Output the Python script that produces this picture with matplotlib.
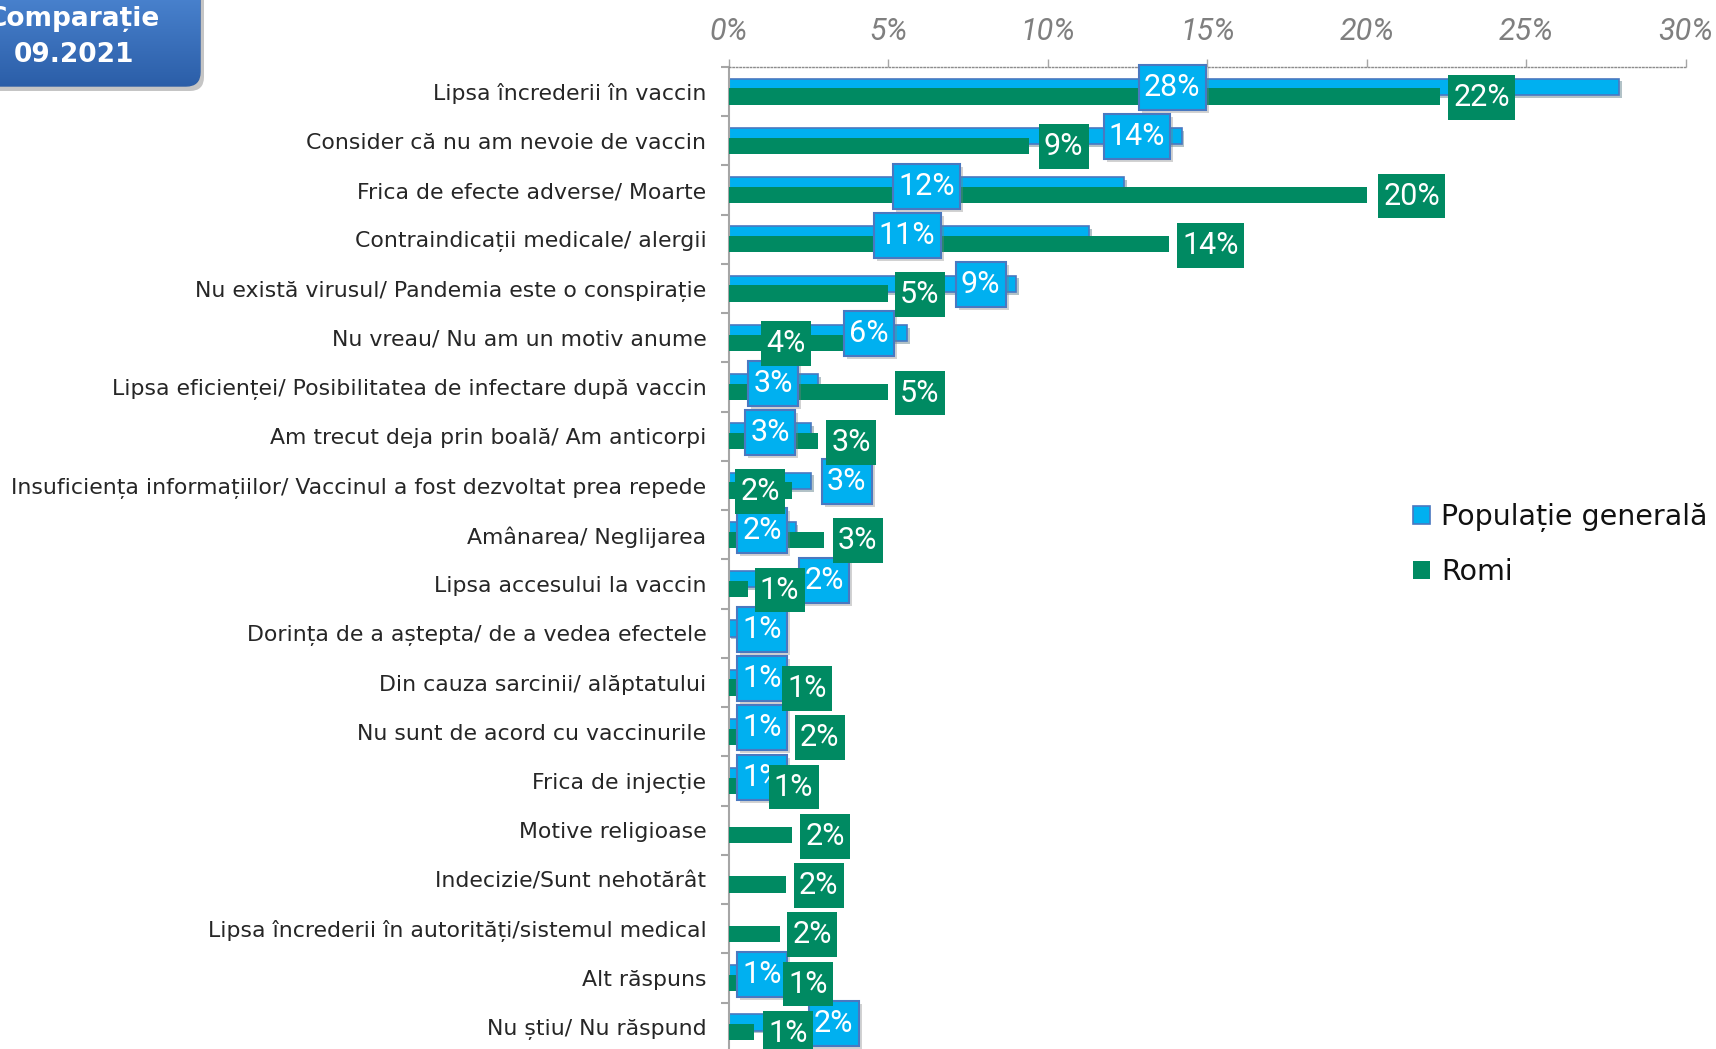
import numpy as np
import matplotlib
matplotlib.use("Agg")
import matplotlib.pyplot as plt
from matplotlib.patches import FancyBboxPatch, Patch
from matplotlib.path import Path
from matplotlib import patheffects as pe
from matplotlib.transforms import offset_copy

# ---------------- data ----------------
categories = [
    "Lipsa încrederii în vaccin",
    "Consider că nu am nevoie de vaccin",
    "Frica de efecte adverse/ Moarte",
    "Contraindicații medicale/ alergii",
    "Nu există virusul/ Pandemia este o conspirație",
    "Nu vreau/ Nu am un motiv anume",
    "Lipsa eficienței/ Posibilitatea de infectare după vaccin",
    "Am trecut deja prin boală/ Am anticorpi",
    "Insuficiența informațiilor/ Vaccinul a fost dezvoltat prea repede",
    "Amânarea/ Neglijarea",
    "Lipsa accesului la vaccin",
    "Dorința de a aștepta/ de a vedea efectele",
    "Din cauza sarcinii/ alăptatului",
    "Nu sunt de acord cu vaccinurile",
    "Frica de injecție",
    "Motive religioase",
    "Indecizie/Sunt nehotărât",
    "Lipsa încrederii în autorități/sistemul medical",
    "Alt răspuns",
    "Nu știu/ Nu răspund",
]
nan = np.nan
pop_values = [27.9, 14.2, 12.4, 11.3, 9.0, 5.6, 2.8, 2.6, 2.6, 2.1, 1.8, 0.8,
              0.8, 0.8, 0.8, nan, nan, nan, 0.8, 2.0]
romi_values = [22.3, 9.4, 20.0, 13.8, 5.0, 3.7, 5.0, 2.8, 2.0, 3.0, 0.6, nan,
               0.8, 1.6, 0.6, 2.0, 1.8, 1.6, 0.6, 0.8]
# label anchor (centre of the value box, in % units) as placed in the original
pop_label_x = [13.9, 12.8, 6.2, 5.6, 7.9, 4.4, 1.4, 1.3, 3.7, 1.05, 3.0, 1.05,
               1.05, 1.05, 1.05, nan, nan, nan, 1.05, 3.3]
romi_label_x = [23.6, 10.5, 21.4, 15.1, 6.0, 1.8, 6.0, 3.85, 1.0, 4.05, 1.6, nan,
                2.45, 2.86, 2.04, 3.03, 2.83, 2.62, 2.5, 1.87]
x_ticks = [0, 5, 10, 15, 20, 25, 30]
x_tick_labels = ["0%", "5%", "10%", "15%", "20%", "25%", "30%"]
series_names = ["Populație generală", "Romi"]
title_lines = ["Comparație", "09.2021"]

# ---------------- style ----------------
BLUE = "#00B0F0"
BLUE_EDGE = "#4A78C0"
GREEN = "#008A62"
GRAY = "#A6A6A6"
pct_family = ["Roboto", "DejaVu Sans"]
PCT_SIZE = 22


def label_box(x0, y0, width, height, mutation_size):
    px = 0.17 * mutation_size
    py = 0.26 * mutation_size
    xa, xb = x0 - px, x0 + width + px
    ya, yb = y0 - py, y0 + height + py
    return Path([(xa, ya), (xb, ya), (xb, yb), (xa, yb), (xa, ya)], closed=True)


W, H = 1716, 1049
fig = plt.figure(figsize=(W / 100, H / 100), dpi=100)
fig.patch.set_facecolor("white")

left_px, right_px, top_px, bot_px = 728.5, 1686, 67, 1052
ax = fig.add_axes([left_px / W, 1 - bot_px / H, (right_px - left_px) / W,
                   (bot_px - top_px) / H])

n = len(categories)
y = np.arange(n)
pop = np.array(pop_values, dtype=float)
romi = np.array(romi_values, dtype=float)
bh = 0.33
off = 0.10

mp = ~np.isnan(pop)
mr = ~np.isnan(romi)
bars_p = ax.barh(y[mp] - off, pop[mp], height=bh, color=BLUE, edgecolor=BLUE_EDGE,
                 linewidth=1.2, zorder=2)
for b in bars_p:
    b.set_path_effects([pe.SimplePatchShadow(offset=(2, -2), alpha=0.3), pe.Normal()])
ax.barh(y[mr] + off, romi[mr], height=bh, color=GREEN, edgecolor="none", zorder=3)

ax.set_xlim(0, 30)
ax.set_ylim(n - 0.5, -0.5)

# value labels
shadow_tr = offset_copy(ax.transData, fig=fig, x=3, y=-3, units="dots")
for i in range(n):
    if not np.isnan(pop[i]):
        lab = f"{pop[i]:.0f}%"
        ax.text(pop_label_x[i], i - 0.08, lab, ha="center", va="center", color="none",
                fontsize=PCT_SIZE, family=pct_family, transform=shadow_tr, zorder=4,
                bbox=dict(boxstyle=label_box, fc="#7f7f7f", ec="none", alpha=0.35))
        ax.text(pop_label_x[i], i - 0.08, lab, ha="center", va="center", color="white",
                fontsize=PCT_SIZE, family=pct_family, zorder=5,
                bbox=dict(boxstyle=label_box, fc=BLUE, ec=BLUE_EDGE, lw=1.5))
for i in range(n):
    if not np.isnan(romi[i]):
        lab = f"{romi[i]:.0f}%"
        ax.text(romi_label_x[i], i + off + 0.02, lab, ha="center", va="center", color="white",
                fontsize=PCT_SIZE, family=pct_family, zorder=7,
                bbox=dict(boxstyle=label_box, fc=GREEN, ec="none"))

# axes styling
ax.xaxis.tick_top()
ax.set_xticks(x_ticks)
ax.set_xticklabels(x_tick_labels)
ax.tick_params(axis="x", which="major", direction="out", length=6, width=1,
               color=GRAY, labelsize=22, labelcolor="#7F7F7F", pad=9)
for lbl in ax.get_xticklabels():
    lbl.set_fontstyle("italic")
    lbl.set_family(pct_family)

ax.set_yticks(y)
ax.set_yticklabels(categories)
ax.set_yticks(np.arange(-0.5, n, 1.0), minor=True)
ax.tick_params(axis="y", which="major", length=0, pad=16, labelsize=15.8,
               labelcolor="#262626")
ax.tick_params(axis="y", which="minor", length=6, width=1.5, color=GRAY, direction="out")

for s in ["right", "bottom"]:
    ax.spines[s].set_visible(False)
ax.spines["top"].set_linestyle((0, (1, 1.5)))
ax.spines["top"].set_color("#8C8C8C")
ax.spines["top"].set_linewidth(1.0)
ax.spines["left"].set_color(GRAY)
ax.spines["left"].set_linewidth(1.5)
ax.set_facecolor("none")

# legend
handles = [Patch(facecolor=BLUE, edgecolor=BLUE_EDGE, linewidth=1.2, label=series_names[0]),
           Patch(facecolor=GREEN, edgecolor="none", label=series_names[1])]
fig.legend(handles=handles, loc="upper left", bbox_to_anchor=(1413 / W, 1 - 503 / H),
           frameon=False, fontsize=20.5, handlelength=0.6, handleheight=0.6,
           handletextpad=0.4, labelspacing=0.9, borderpad=0, borderaxespad=0,
           labelcolor="#111111")

# header box
ov = fig.add_axes([0, 0, 1, 1], zorder=10)
ov.set_xlim(0, W)
ov.set_ylim(H, 0)
ov.axis("off")
ov.patch.set_alpha(0)
bx0, by0, bw, bh2 = -30, -30, 230, 116
shadow = FancyBboxPatch((bx0 + 4, by0 + 5), bw, bh2, boxstyle="round,pad=0,rounding_size=14",
                        fc="#808080", ec="none", alpha=0.45)
ov.add_patch(shadow)
box = FancyBboxPatch((bx0, by0), bw, bh2, boxstyle="round,pad=0,rounding_size=14",
                     fc="none", ec="#2F5FA5", lw=1)
ov.add_patch(box)
grad = np.linspace(0, 1, 256).reshape(-1, 1)
top_c = np.array([0.32, 0.55, 0.85])
bot_c = np.array([0.17, 0.37, 0.66])
img = top_c[None, None, :] * (1 - grad[:, :, None]) + bot_c[None, None, :] * grad[:, :, None]
im = ov.imshow(img, extent=[bx0, bx0 + bw, by0 + bh2, by0], aspect="auto", zorder=1)
im.set_clip_path(box)
ov.set_xlim(0, W)
ov.set_ylim(H, 0)
ov.text(74, 19, title_lines[0], ha="center", va="center", color="white",
        fontsize=19, fontweight="bold", zorder=3)
ov.text(74, 55, title_lines[1], ha="center", va="center", color="white",
        fontsize=19, fontweight="bold", zorder=3)

fig.savefig("out.png", dpi=100)
